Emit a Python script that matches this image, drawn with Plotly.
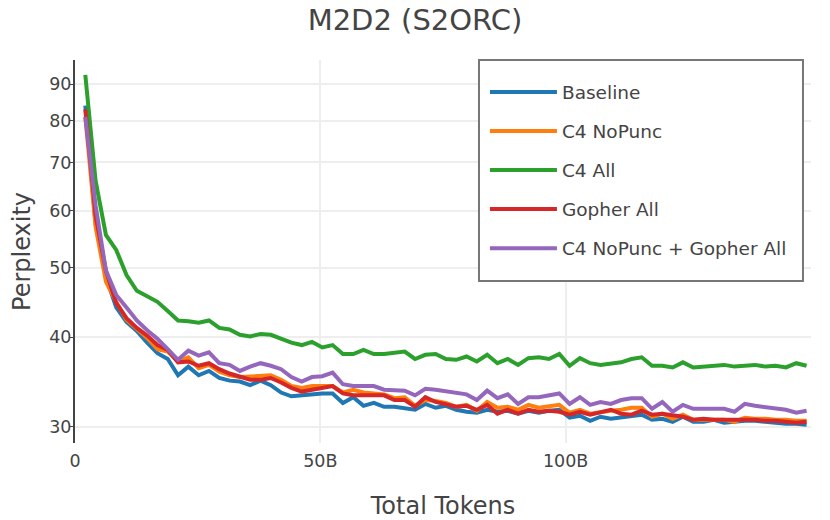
import plotly.graph_objects as go

tokens_b = [round(2.1 * i, 1) for i in range(1, 72)]
x_vals = [t * 1e9 for t in tokens_b]

baseline = [84.0, 57.5, 48.5, 44.0, 42.0, 40.8, 39.3, 38.0, 37.3, 35.4,
            36.4, 35.4, 35.9, 35.1, 34.8, 34.7, 34.3, 34.8, 34.3, 33.5,
            33.1, 33.2, 33.4, 33.4, 33.4, 32.4, 33.0, 32.1, 32.4, 32.0,
            32.0, 31.8, 31.7, 32.3, 31.9, 32.1, 31.7, 31.5, 31.4, 31.7,
            31.5, 31.6, 31.3, 31.6, 31.4, 31.6, 31.7, 30.9, 31.1, 30.6,
            31.0, 30.8, 30.9, 31.0, 31.2, 30.7, 30.8, 30.5, 31.0, 30.5,
            30.5, 30.7, 30.4, 30.5, 30.6, 30.6, 30.5, 30.4, 30.3, 30.3,
            30.2]

c4_nopunc = [81.0, 57.0, 47.8, 44.8, 42.3, 41.0, 39.9, 38.5, 38.2, 37.0,
             37.5, 36.2, 36.6, 35.8, 35.4, 35.2, 35.3, 35.4, 35.4, 34.9,
             34.2, 34.0, 34.2, 34.2, 34.2, 33.5, 33.8, 33.5, 33.4, 33.3,
             32.9, 33.0, 32.1, 32.7, 32.6, 32.4, 32.0, 32.2, 31.6, 32.5,
             31.9, 32.0, 31.7, 32.2, 31.9, 32.0, 32.2, 31.4, 31.7, 31.3,
             31.5, 31.6, 31.7, 31.9, 31.9, 31.0, 31.3, 30.8, 31.2, 30.7,
             30.7, 30.7, 30.7, 30.5, 30.9, 30.8, 30.8, 30.7, 30.7, 30.6,
             30.6]

c4_all = [92.7, 66.0, 55.5, 52.9, 48.8, 46.4, 45.6, 44.8, 43.5, 42.2,
          42.1, 41.9, 42.2, 41.2, 41.0, 40.3, 40.1, 40.4, 40.3, 39.8,
          39.3, 39.0, 39.4, 38.7, 39.0, 37.9, 37.9, 38.4, 37.9, 37.9,
          38.1, 38.2, 37.3, 37.8, 37.9, 37.3, 37.2, 37.6, 37.0, 37.8,
          36.8, 37.3, 36.6, 37.4, 37.5, 37.3, 37.9, 36.5, 37.4, 36.8,
          36.6, 36.7, 36.9, 37.3, 37.5, 36.5, 36.5, 36.3, 36.9, 36.3,
          36.4, 36.5, 36.6, 36.4, 36.5, 36.6, 36.4, 36.5, 36.3, 36.8,
          36.5]

gopher_all = [83.0, 59.0, 49.5, 44.6, 42.5, 41.2, 40.2, 39.0, 38.4, 36.9,
              37.0, 36.5, 36.8, 36.1, 35.6, 35.3, 34.9, 34.9, 35.1, 34.6,
              34.0, 33.6, 33.8, 34.0, 34.2, 33.4, 33.2, 33.2, 33.2, 33.2,
              32.7, 32.7, 32.0, 33.0, 32.5, 32.3, 32.0, 32.1, 31.7, 32.2,
              31.3, 31.7, 31.3, 31.7, 31.5, 31.6, 31.5, 31.2, 31.5, 31.2,
              31.5, 31.7, 31.3, 31.2, 31.6, 31.2, 31.3, 31.2, 31.0, 30.7,
              30.8, 30.7, 30.7, 30.7, 30.7, 30.7, 30.6, 30.6, 30.5, 30.4,
              30.5]

c4_nopunc_gopher = [81.0, 61.0, 49.5, 45.8, 44.0, 42.2, 40.9, 39.8, 38.5, 37.2,
                    38.3, 37.7, 38.1, 36.8, 36.6, 35.9, 36.4, 36.8, 36.5, 36.1,
                    35.2, 34.7, 35.2, 35.3, 35.7, 34.4, 34.2, 34.2, 34.2, 33.8,
                    33.7, 33.7, 33.2, 33.9, 33.8, 33.6, 33.5, 33.3, 32.7, 33.7,
                    32.9, 33.3, 32.3, 33.0, 33.0, 33.2, 33.4, 32.3, 33.0, 32.2,
                    32.5, 32.3, 32.7, 32.9, 32.9, 31.8, 32.5, 31.5, 32.2, 31.8,
                    31.8, 31.8, 31.8, 31.5, 32.3, 32.1, 32.0, 31.9, 31.7, 31.4,
                    31.6]

series_names = ["Baseline", "C4 NoPunc", "C4 All", "Gopher All", "C4 NoPunc + Gopher All"]
series_values = [baseline, c4_nopunc, c4_all, gopher_all, c4_nopunc_gopher]
series_colors = ["#1f77b4", "#ff7f0e", "#2ca02c", "#d62728", "#9467bd"]

x_tick_vals = [0, 50e9, 100e9]
x_tick_text = ["0", "50B", "100B"]
y_tick_vals = [30, 40, 50, 60, 70, 80, 90]
y_tick_text = ["30", "40", "50", "60", "70", "80", "90"]

FONT = "DejaVu Sans"

fig = go.Figure()
for name, vals, col in zip(series_names, series_values, series_colors):
    fig.add_trace(go.Scatter(x=x_vals, y=vals, mode="lines", name=name,
                             legendgroup=name,
                             line=dict(color=col, width=4)))

# legend frame
fig.add_shape(type="rect", xref="paper", yref="paper",
              x0=0.5489, x1=0.9891, y0=0.423, y1=1.0,
              line=dict(color="#777", width=2), fillcolor="white", layer="above")

fig.update_layout(
    width=830, height=520,
    margin=dict(l=75, r=19, t=60, b=77, autoexpand=False),
    paper_bgcolor="white", plot_bgcolor="white",
    font=dict(family=FONT, color="#444", size=17.5),
    title=dict(text="M2D2 (S2ORC)", x=0.5, xanchor="center",
               y=0.981, yanchor="top",
               font=dict(size=29, family=FONT, color="#444")),
    legend=dict(x=0.557, y=0.965, xanchor="left", yanchor="top",
                bgcolor="rgba(0,0,0,0)", borderwidth=0,
                font=dict(size=18.5, family=FONT, color="#444"),
                tracegroupgap=12, itemwidth=67),
    xaxis=dict(range=[0, 150e9], tickvals=x_tick_vals, ticktext=x_tick_text,
               showgrid=True, gridcolor="#eeeeee", gridwidth=2,
               zeroline=False, showline=False, ticks="", automargin=False,
               ticklabelstandoff=5,
               title=dict(text="Total Tokens", font=dict(size=24), standoff=29),
               tickfont=dict(size=17.5)),
    yaxis=dict(type="log", range=[1.4548, 1.9877], tickvals=y_tick_vals, ticktext=y_tick_text,
               showgrid=True, gridcolor="#eeeeee", gridwidth=2,
               zeroline=False, showline=True, linecolor="#444", linewidth=2,
               ticks="outside", ticklen=3, tickcolor="#444", automargin=False,
               ticklabelstandoff=-5,
               title=dict(text="Perplexity", font=dict(size=24), standoff=12),
               tickfont=dict(size=17.5)),
)

fig.write_html("out.html", config={"displayModeBar": False},
               post_script="document.body.style.margin='0';")
